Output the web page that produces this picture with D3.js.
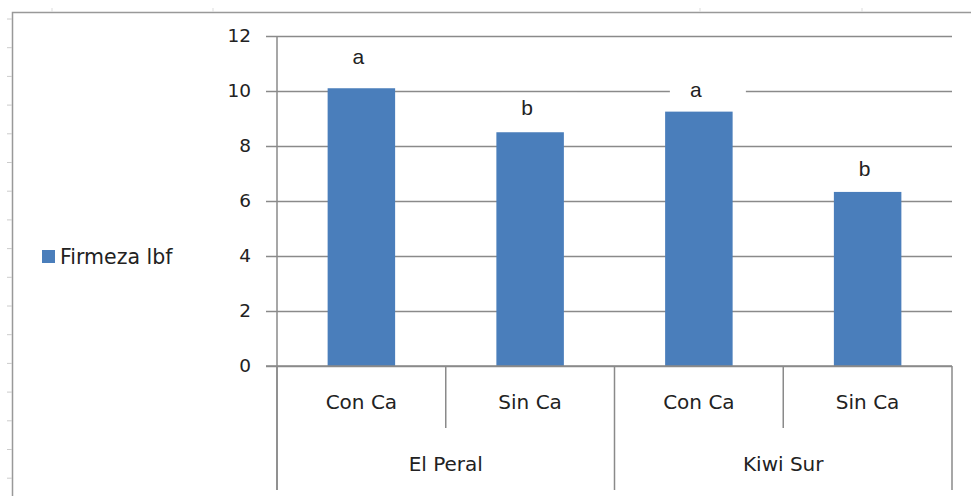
<!DOCTYPE html>
<html>
<head>
<meta charset="utf-8">
<script src="https://cdn.jsdelivr.net/npm/d3@7"></script>
<style>
  html, body { margin: 0; padding: 0; background: #fff; }
  svg { display: block; }
</style>
</head>
<body>
<div id="chart"></div>
<script>
// Firmeza (lbf) por huerto y tratamiento de calcio
const sites = ['El Peral', 'Kiwi Sur'];
const treatments = ['Con Ca', 'Sin Ca'];
const firmeza = [10.1, 8.5, 9.25, 6.33];
const letters = ['a', 'b', 'a', 'b'];
// height (in lbf) where each hand-placed letter sits
const letterAt = [10.98, 9.13, 9.78, 6.91];
const yTicks = [0, 2, 4, 6, 8, 10, 12];
const seriesName = 'Firmeza lbf';

const W = 971, H = 496;
const PLOT = { left: 277, right: 952, top: 36, bottom: 366 };
const BAR = '#4a7ebb';
const GRID = '#8a8a8a';
const FONT = "'DejaVu Sans', 'Open Sans', sans-serif";

const cats = sites.flatMap(s => treatments.map(t => ({ site: s, trt: t })));
cats.forEach((c, i) => {
  c.key = i; c.value = firmeza[i]; c.letter = letters[i]; c.letterAt = letterAt[i];
});

const svg = d3.select('#chart').append('svg')
  .attr('width', W).attr('height', H)
  .style('font-family', FONT);

// outer chart border (only top and left visible) + faint sheet ticks
svg.append('path')
  .attr('d', `M12.5,${H} V12.5 H${W}`)
  .attr('fill', 'none').attr('stroke', '#999').attr('stroke-width', 1.5);
svg.append('g').selectAll('line').data(d3.range(19, H, 28.7)).join('line')
  .attr('x1', 7).attr('x2', 12).attr('y1', d => d).attr('y2', d => d)
  .attr('stroke', '#ccc');
svg.append('g').selectAll('line').data([52, 213, 700, 862]).join('line')
  .attr('x1', d => d).attr('x2', d => d).attr('y1', 8).attr('y2', 12)
  .attr('stroke', '#ddd');

const x = d3.scaleBand()
  .domain(cats.map(c => c.key))
  .range([PLOT.left, PLOT.right])
  .paddingInner(0.6).paddingOuter(0.3);
const band = (PLOT.right - PLOT.left) / cats.length;

const y = d3.scaleLinear().domain([0, 12]).range([PLOT.bottom, PLOT.top]);

// gridlines + y ticks
const yAxis = svg.append('g')
  .attr('transform', `translate(${PLOT.left},0)`)
  .call(d3.axisLeft(y).tickValues(yTicks).tickSize(11).tickPadding(15));
yAxis.select('.domain').remove();
yAxis.selectAll('line').attr('stroke', GRID).attr('stroke-width', 1.3)
  .attr('x1', -11).attr('x2', PLOT.right - PLOT.left);
yAxis.selectAll('text')
  .attr('fill', '#222').style('font-size', '18.5px').style('font-family', FONT);

// bars
svg.append('g').selectAll('rect').data(cats).join('rect')
  .attr('x', d => x(d.key))
  .attr('width', x.bandwidth())
  .attr('y', d => y(d.value))
  .attr('height', d => y(0) - y(d.value))
  .attr('fill', BAR);

// significance letters with white background
const lab = svg.append('g').selectAll('g').data(cats).join('g')
  .attr('transform', d => `translate(${x(d.key) + x.bandwidth() / 2 - 3},${y(d.letterAt)})`);
lab.append('rect')
  .attr('x', -26).attr('y', -22).attr('width', 76).attr('height', 30)
  .attr('fill', '#fff');
lab.append('text')
  .attr('text-anchor', 'middle')
  .style('font-family', "'Liberation Sans', Arial, sans-serif")
  .style('font-size', '21px').attr('fill', '#222')
  .text(d => d.letter);

// y axis line
svg.append('line')
  .attr('x1', PLOT.left).attr('x2', PLOT.left)
  .attr('y1', PLOT.top).attr('y2', 490)
  .attr('stroke', GRID).attr('stroke-width', 1.5);

// x axis line
svg.append('line')
  .attr('x1', PLOT.left - 11).attr('x2', PLOT.right)
  .attr('y1', PLOT.bottom).attr('y2', PLOT.bottom)
  .attr('stroke', GRID).attr('stroke-width', 1.5);

// category separators
const seps = d3.range(cats.length + 1).map(i => ({
  x: PLOT.left + i * band,
  long: i % treatments.length === 0
}));
svg.append('g').selectAll('line').data(seps).join('line')
  .attr('x1', d => d.x).attr('x2', d => d.x)
  .attr('y1', PLOT.bottom)
  .attr('y2', d => d.long ? 490 : 428)
  .attr('stroke', GRID).attr('stroke-width', 1.5);

// treatment labels
svg.append('g').selectAll('text').data(cats).join('text')
  .attr('x', d => x(d.key) + x.bandwidth() / 2)
  .attr('y', 402).attr('dy', '0.35em')
  .attr('text-anchor', 'middle')
  .style('font-size', '20px').attr('fill', '#222')
  .text(d => d.trt);

// site labels
svg.append('g').selectAll('text').data(sites).join('text')
  .attr('x', (d, i) => PLOT.left + (i + 0.5) * band * treatments.length)
  .attr('y', 464).attr('dy', '0.35em')
  .attr('text-anchor', 'middle')
  .style('font-size', '20px').attr('fill', '#222')
  .text(d => d);

// legend
const lg = svg.append('g').attr('transform', 'translate(42,257)');
lg.append('rect').attr('x', 0).attr('y', -7).attr('width', 13).attr('height', 13).attr('fill', BAR);
lg.append('text').attr('x', 18).attr('dy', '0.35em')
  .style('font-size', '20.5px').attr('fill', '#222')
  .text(seriesName);
</script>
</body>
</html>
